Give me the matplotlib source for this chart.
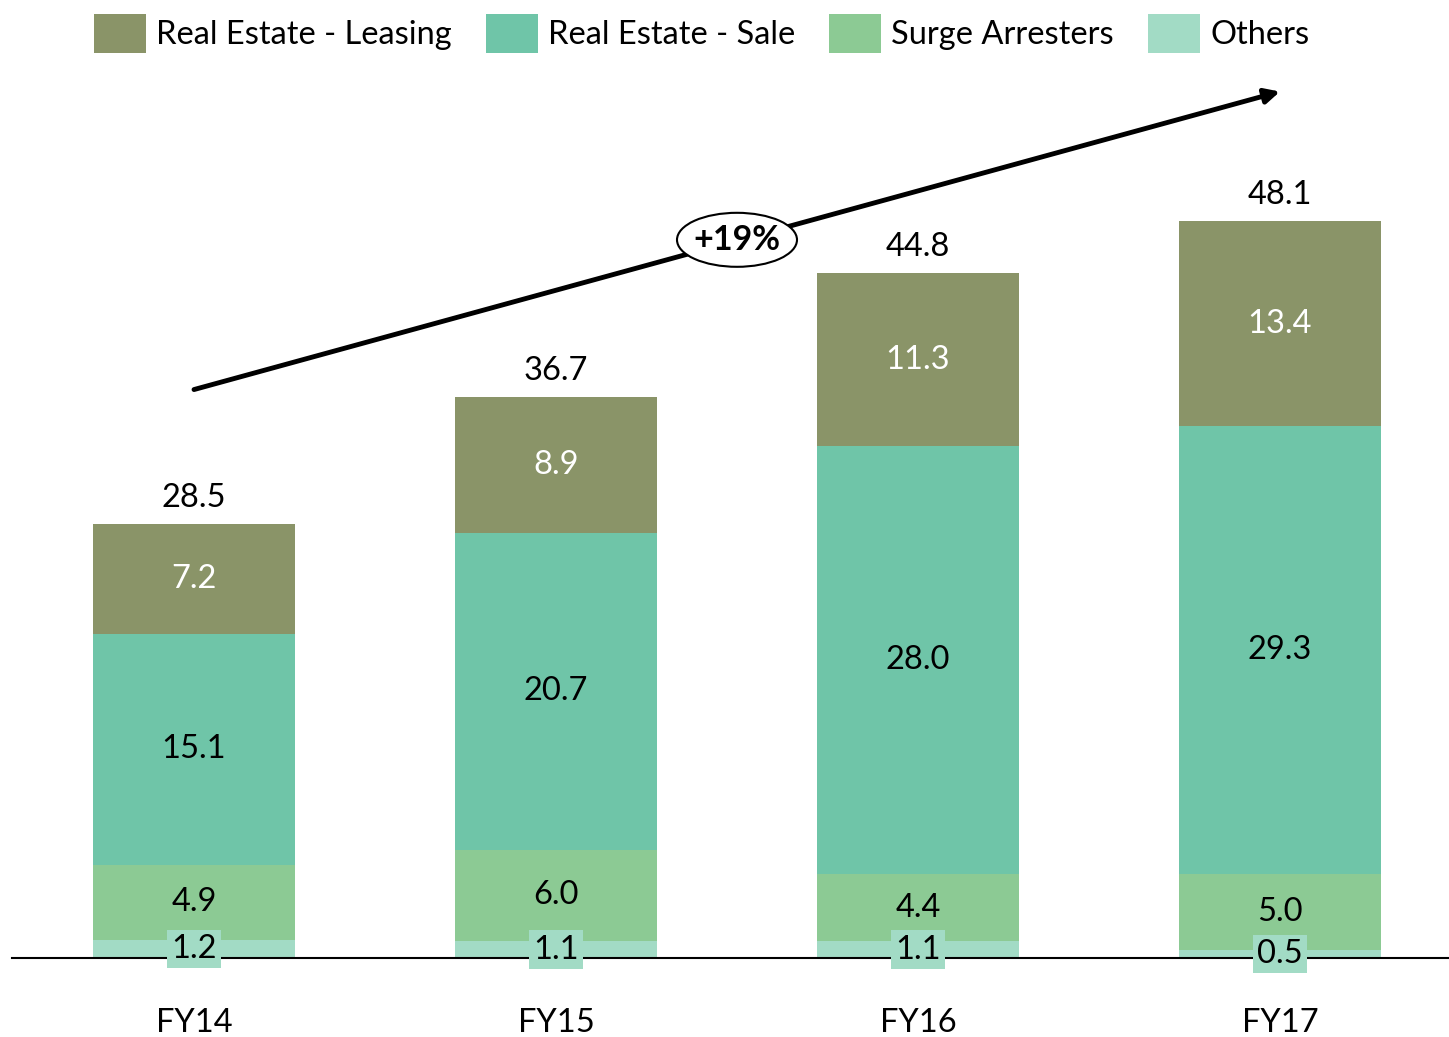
import matplotlib.pyplot as plt
from matplotlib.patches import Ellipse
import numpy as np

years = ['FY14', 'FY15', 'FY16', 'FY17']
others = [1.2, 1.1, 1.1, 0.5]
surge = [4.9, 6.0, 4.4, 5.0]
sale = [15.1, 20.7, 28.0, 29.3]
leasing = [7.2, 8.9, 11.3, 13.4]
totals = [28.5, 36.7, 44.8, 48.1]
cagr_label = '+19%'

names = ['Real Estate - Leasing', 'Real Estate - Sale', 'Surge Arresters', 'Others']
colors = {'leasing': '#8A9468', 'sale': '#6FC5A8', 'surge': '#8CCA94', 'others': '#A2DBC5'}

plt.rcParams['font.family'] = ['Lato', 'DejaVu Sans']

W, H = 1449, 1037
fig = plt.figure(figsize=(W / 100, H / 100), dpi=100)
base = 958
ax = fig.add_axes([12 / W, (H - base) / H, 1 - 12 / W, base / H])

x = np.arange(len(years))
width = 0.558
fs = 23.5

b_oth = ax.bar(x, others, width, color=colors['others'], label=names[3])
b_sur = ax.bar(x, surge, width, bottom=others, color=colors['surge'], label=names[2])
bot2 = np.array(others) + np.array(surge)
b_sal = ax.bar(x, sale, width, bottom=bot2, color=colors['sale'], label=names[1])
bot3 = bot2 + np.array(sale)
b_lea = ax.bar(x, leasing, width, bottom=bot3, color=colors['leasing'], label=names[0])

for i in range(len(years)):
    ax.text(x[i], others[i] / 2, f'{others[i]:.1f}', ha='center', va='center', fontsize=fs,
            bbox=dict(facecolor=colors['others'], edgecolor='none', pad=3), zorder=5)
    ax.text(x[i], others[i] + surge[i] / 2, f'{surge[i]:.1f}', ha='center', va='center', fontsize=fs)
    ax.text(x[i], bot2[i] + sale[i] / 2, f'{sale[i]:.1f}', ha='center', va='center', fontsize=fs)
    ax.text(x[i], bot3[i] + leasing[i] / 2, f'{leasing[i]:.1f}', ha='center', va='center',
            fontsize=fs, color='white')
    ax.annotate(f'{totals[i]:.1f}', (x[i], bot3[i] + leasing[i]), xytext=(0, 8),
                textcoords='offset points', ha='center', va='bottom', fontsize=fs)

ax.set_xlim(-(194 - 12) / 362, 3 + (1449 - 1280) / 362)
scale = 735 / 48.1
ax.set_ylim(0, base / scale)

# growth arrow
ax.annotate('', xy=(3.0, 56.7), xytext=(0, 37.2),
            arrowprops=dict(arrowstyle='-|>', lw=3.5, color='black', mutation_scale=22,
                            shrinkA=0, shrinkB=0))
ax.add_patch(Ellipse((1.5, 47.0), 120 / 362, 54 / scale, facecolor='white',
                     edgecolor='black', lw=1.5, zorder=6))
ax.text(1.5, 47.0, cagr_label, ha='center', va='center', fontsize=fs + 1, fontweight='bold', zorder=7)

ax.set_xticks(x)
ax.set_xticklabels(years, fontsize=fs)
ax.tick_params(axis='x', length=0, pad=36)
ax.set_yticks([])
for s in ['top', 'right', 'left']:
    ax.spines[s].set_visible(False)
ax.spines['bottom'].set_linewidth(1.5)

handles = [b_lea, b_sal, b_sur, b_oth]
fig.legend(handles, names, loc='upper center', bbox_to_anchor=(0.484, 1.015), ncol=4,
           frameon=False, fontsize=fs, handlelength=1.6, handleheight=1.45,
           handletextpad=0.3, columnspacing=1.05)

fig.savefig('out.png', dpi=100)
